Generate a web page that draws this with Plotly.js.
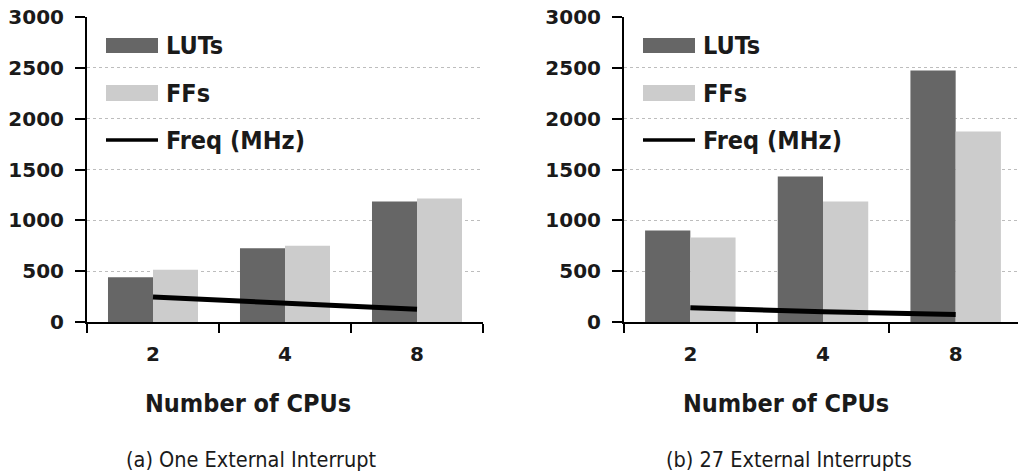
<!DOCTYPE html>
<html>
<head>
<meta charset="utf-8">
<script src="https://cdn.plot.ly/plotly-3.0.1.min.js"></script>
<style>
html,body{margin:0;padding:0;overflow:hidden;background:#fff;}
#chart{width:1024px;height:475px;}
</style>
</head>
<body>
<div id="chart"></div>
<script>
// ---- data ----
const cpus = ['2', '4', '8'];
const lutsA = [440, 725, 1185];
const ffsA = [515, 750, 1215];
const freqA = [245, 190, 125];
const lutsB = [900, 1430, 2475];
const ffsB = [830, 1185, 1875];
const freqB = [140, 100, 75];
const yTickVals = [0, 500, 1000, 1500, 2000, 2500, 3000];
const seriesNames = ['LUTs', 'FFs', 'Freq (MHz)'];
const xTitle = 'Number of CPUs';
const captions = ['(a) One External Interrupt', '(b) 27 External Interrupts'];

// ---- style ----
const W = 1024, H = 475;
const cLUT = '#666666', cFF = '#cccccc', cText = '#1a1a1a';
const tickFont = {family: 'DejaVu Sans, sans-serif', size: 20, color: cText, weight: 'bold'};
const narrowBold = {family: 'DejaVu Sans Condensed, sans-serif', size: 25, color: cText, weight: 'bold'};
const narrowReg = {family: 'DejaVu Sans Condensed, sans-serif', size: 21.5, color: cText};

const px = v => v / W, py = v => 1 - v / H;

function bars(x, y, name, color, xa, ya) {
  return {type: 'bar', x: x, y: y, name: name, marker: {color: color, line: {width: 0}},
          xaxis: xa, yaxis: ya, showlegend: false, hoverinfo: 'x+y'};
}
function line(x, y, name, xa, ya) {
  return {type: 'scatter', mode: 'lines', x: x, y: y, name: name,
          line: {color: '#000', width: 5}, xaxis: xa, yaxis: ya, showlegend: false};
}

const data = [
  bars(cpus, lutsA, seriesNames[0], cLUT, 'x', 'y'),
  bars(cpus, ffsA, seriesNames[1], cFF, 'x', 'y'),
  line(cpus, freqA, seriesNames[2], 'x', 'y'),
  bars(cpus, lutsB, seriesNames[0], cLUT, 'x2', 'y2'),
  bars(cpus, ffsB, seriesNames[1], cFF, 'x2', 'y2'),
  line(cpus, freqB, seriesNames[2], 'x2', 'y2')
];

function xaxis(d0, d1, anchor) {
  return {domain: [px(d0), px(d1)], anchor: anchor, type: 'category',
          showline: true, linecolor: '#000', linewidth: 2, showgrid: false, zeroline: false,
          ticks: 'outside', tickson: 'boundaries', ticklen: 9, tickwidth: 2, tickcolor: '#000',
          tickfont: tickFont, ticklabelstandoff: 13, fixedrange: true};
}
function yaxis(anchor) {
  return {domain: [py(322), py(17)], anchor: anchor, range: [0, 3000], tickvals: yTickVals,
          showline: true, linecolor: '#000', linewidth: 2, zeroline: false,
          showgrid: true, gridcolor: '#bdbdbd', griddash: '3px,3px', gridwidth: 1,
          ticks: 'outside', ticklen: 10, tickwidth: 2, tickcolor: '#000',
          tickfont: tickFont, ticklabelstandoff: 7, fixedrange: true};
}

// legend drawn per panel
const shapes = [], annotations = [];
function legend(x0) {
  shapes.push({type: 'rect', xref: 'paper', yref: 'paper', x0: px(x0), x1: px(x0 + 52), y0: py(53), y1: py(38),
               fillcolor: cLUT, line: {width: 0}});
  shapes.push({type: 'rect', xref: 'paper', yref: 'paper', x0: px(x0), x1: px(x0 + 52), y0: py(101), y1: py(85),
               fillcolor: cFF, line: {width: 0}});
  shapes.push({type: 'line', xref: 'paper', yref: 'paper', x0: px(x0), x1: px(x0 + 52), y0: py(140), y1: py(140),
               line: {color: '#000', width: 3.5}});
  const ys = [46, 93, 140];
  seriesNames.forEach((n, i) => annotations.push({xref: 'paper', yref: 'paper', x: px(x0 + 58), y: py(ys[i]),
    xanchor: 'left', yanchor: 'middle', text: n, showarrow: false, font: narrowBold}));
}
legend(106);
legend(643);

annotations.push({xref: 'paper', yref: 'paper', x: px(248), y: py(403), xanchor: 'center', yanchor: 'middle',
  text: xTitle, showarrow: false, font: narrowBold});
annotations.push({xref: 'paper', yref: 'paper', x: px(786), y: py(403), xanchor: 'center', yanchor: 'middle',
  text: xTitle, showarrow: false, font: narrowBold});
annotations.push({xref: 'paper', yref: 'paper', x: px(251), y: py(459), xanchor: 'center', yanchor: 'middle',
  text: captions[0], showarrow: false, font: narrowReg});
annotations.push({xref: 'paper', yref: 'paper', x: px(789), y: py(459), xanchor: 'center', yanchor: 'middle',
  text: captions[1], showarrow: false, font: narrowReg});

const layout = {
  width: W, height: H,
  margin: {l: 0, r: 0, t: 0, b: 0},
  paper_bgcolor: '#fff', plot_bgcolor: '#fff',
  barmode: 'group', bargap: 0.318, bargroupgap: 0,
  showlegend: false,
  xaxis: xaxis(87, 483, 'y'),
  yaxis: yaxis('x'),
  xaxis2: xaxis(624, 1022, 'y2'),
  yaxis2: yaxis('x2'),
  shapes: shapes,
  annotations: annotations
};

Plotly.newPlot('chart', data, layout, {displayModeBar: false, staticPlot: true});
</script>
</body>
</html>
